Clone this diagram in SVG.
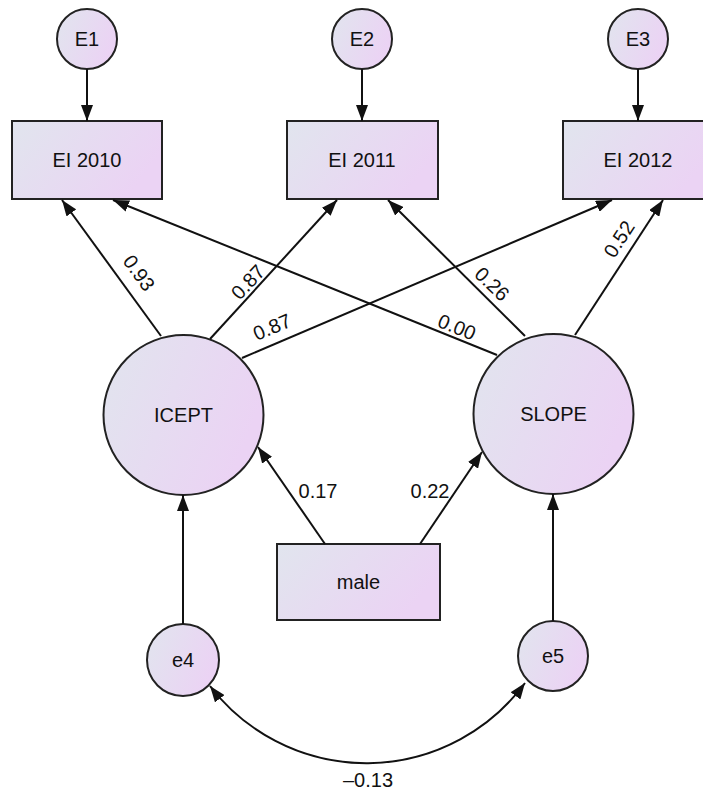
<svg xmlns="http://www.w3.org/2000/svg" width="703" height="791" viewBox="0 0 703 791">
<defs>
<linearGradient id="g" x1="0" y1="0" x2="1" y2="0.4">
<stop offset="0" stop-color="#e1e5ee"/>
<stop offset="1" stop-color="#ebd3f4"/>
</linearGradient>
<marker id="ah" markerUnits="userSpaceOnUse" markerWidth="16" markerHeight="12" refX="16" refY="6" orient="auto-start-reverse">
<path d="M0,0 L16,6 L0,12 z" fill="#111"/>
</marker>
</defs>
<style>
.n{fill:url(#g);stroke:#222;stroke-width:2}
.t{font-family:"Liberation Sans",Arial,sans-serif;font-size:20px;fill:#111;text-anchor:middle}
.c line,.c path{stroke:#111;stroke-width:2;fill:none;marker-end:url(#ah)}
.c path{marker-start:url(#ah)}
</style>
<rect width="703" height="791" fill="#fff"/>
<g id="E1"><circle class="n" cx="87" cy="39" r="30"/><text class="t" x="87" y="46">E1</text></g>
<g id="E2"><circle class="n" cx="362" cy="39" r="30"/><text class="t" x="362" y="46">E2</text></g>
<g id="E3"><circle class="n" cx="638" cy="39" r="30"/><text class="t" x="638" y="46">E3</text></g>
<g id="EI2010"><rect class="n" x="12" y="121" width="150" height="78"/><text class="t" x="87" y="167">EI 2010</text></g>
<g id="EI2011"><rect class="n" x="287" y="121" width="151" height="78"/><text class="t" x="362" y="167">EI 2011</text></g>
<g id="EI2012"><rect class="n" x="563" y="121" width="150" height="78"/><text class="t" x="638" y="167">EI 2012</text></g>
<g id="ICEPT"><circle class="n" cx="183.5" cy="415" r="80"/><text class="t" x="183.5" y="422">ICEPT</text></g>
<g id="SLOPE"><circle class="n" cx="553.5" cy="414" r="80"/><text class="t" x="553.5" y="421">SLOPE</text></g>
<g id="male"><rect class="n" x="277" y="544" width="163" height="76"/><text class="t" x="358.5" y="589">male</text></g>
<g id="e4"><circle class="n" cx="183" cy="660" r="36"/><text class="t" x="183" y="667">e4</text></g>
<g id="e5"><circle class="n" cx="553" cy="656" r="35"/><text class="t" x="553" y="663">e5</text></g>
<g id="connectors" class="c">
<line x1="87" y1="69" x2="87" y2="121"/>
<line x1="362" y1="69" x2="362" y2="121"/>
<line x1="638" y1="69" x2="638" y2="121"/>
<line x1="161" y1="336" x2="62" y2="200"/>
<line x1="210" y1="339" x2="337" y2="200"/>
<line x1="242" y1="358" x2="612" y2="200"/>
<line x1="497" y1="355" x2="113" y2="200"/>
<line x1="525" y1="336" x2="388" y2="200"/>
<line x1="575" y1="335" x2="663" y2="200"/>
<line x1="325" y1="544" x2="258" y2="447"/>
<line x1="420" y1="544" x2="482" y2="452"/>
<line x1="183" y1="624" x2="183" y2="495"/>
<line x1="553" y1="621" x2="553" y2="494"/>
<path d="M210,686 A197,197 0 0 0 525,683"/>
</g>
<g id="labels">
<text class="t" transform="translate(139,273) rotate(54)" x="0" y="7">0.93</text>
<text class="t" transform="translate(248,282) rotate(-47)" x="0" y="7">0.87</text>
<text class="t" transform="translate(272,327) rotate(-23)" x="0" y="7">0.87</text>
<text class="t" transform="translate(457,327) rotate(22)" x="0" y="7">0.00</text>
<text class="t" transform="translate(492,284) rotate(44)" x="0" y="7">0.26</text>
<text class="t" transform="translate(619,239) rotate(-57)" x="0" y="7">0.52</text>
<text class="t" x="318" y="498">0.17</text>
<text class="t" x="430" y="498">0.22</text>
<text class="t" x="368" y="787">–0.13</text>
</g>
</svg>
